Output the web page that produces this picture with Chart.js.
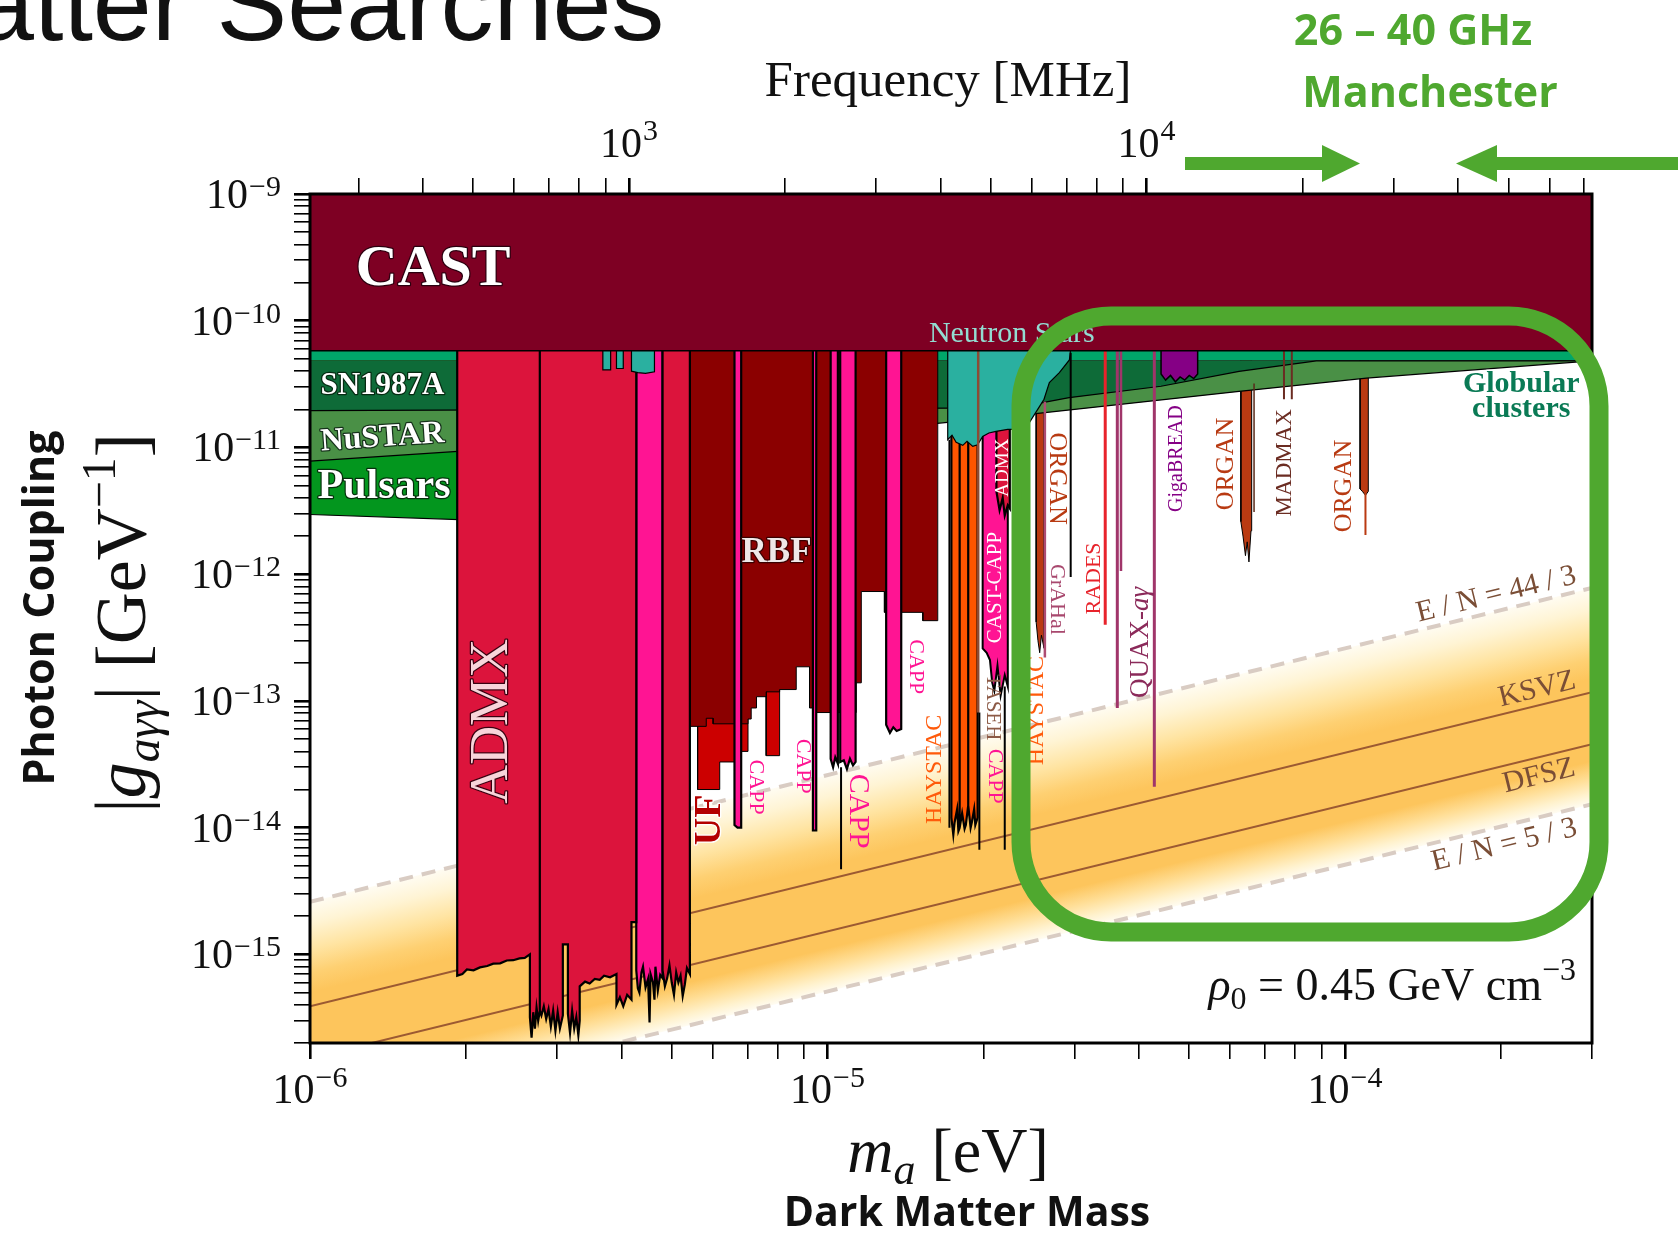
<!DOCTYPE html>
<html>
<head>
<meta charset="utf-8">
<title>Axion haloscope limits</title>
<script src="https://cdn.jsdelivr.net/npm/chart.js@4.4.1/dist/chart.umd.min.js"></script>
<style>
  html, body { margin: 0; padding: 0; background: #fff; overflow: hidden; }
  canvas { display: block; }
</style>
</head>
<body>
<canvas id="limits" width="1678" height="1233"></canvas>
<script>
const SERIF = '"Liberation Serif", "DejaVu Serif", serif';
const SANS = '"Open Sans", "Liberation Sans", sans-serif';
const GREEN = '#4FA82F';
const EV_TO_MHZ = 2.418e8; // 1 eV photon -> MHz

// axes
const massRange = [1e-6, 3e-4];
const couplingRange = [2e-16, 1e-9];
const massTicks = [1e-6, 1e-5, 1e-4];
const freqTicks = [1e3, 1e4];
const couplingTicks = [1e-15, 1e-14, 1e-13, 1e-12, 1e-11, 1e-10, 1e-9];
const minorSteps = [1, 2, 3, 4, 5, 6, 7, 8, 9];

// all series are [mass eV, |g| GeV^-1]
const qcdUpper = [[1e-6, 2.6e-15], [3e-4, 7.8e-13]];    // E/N = 44/3
const ksvz = [[1e-6, 3.9e-16], [3e-4, 1.17e-13]];
const dfsz = [[1e-6, 1.52e-16], [3e-4, 4.56e-14]];
const qcdLower = [[1e-6, 5.1e-17], [3e-4, 1.53e-14]];   // E/N = 5/3

const cast = [[1e-6, 5.8e-11], [3e-4, 5.8e-11]];
const hbStrip = [[1e-6, 4.83e-11], [3e-4, 4.83e-11]];
const sn1987a = [[1e-6, 1.95e-11], [2.3e-5, 2.05e-11], [2.93e-5, 2.47e-11], [4.41e-5, 3.04e-11],
  [6.24e-5, 3.98e-11], [8.8e-5, 4.83e-11], [3e-4, 4.83e-11]];
const globular = [[1e-6, 7.8e-12], [1.93e-6, 9.3e-12], [1.63e-5, 1.55e-11], [2.5e-5, 1.84e-11],
  [6.24e-5, 2.77e-11], [1.1e-4, 3.53e-11], [3e-4, 4.83e-11]];
const pulsars = [[1e-6, 2.96e-12], [2.2e-6, 2.65e-12]];

const admx = [
  [1.925e-6, 6e-11], [1.925e-6, 6.8e-16], [1.97e-6, 7.0e-16], [2.01e-6, 7.6e-16], [2.07e-6, 7.5e-16],
  [2.13e-6, 7.9e-16], [2.2e-6, 8.1e-16], [2.26e-6, 8.45e-16], [2.33e-6, 8.5e-16], [2.4e-6, 8.95e-16],
  [2.47e-6, 9.0e-16], [2.54e-6, 9.3e-16], [2.6e-6, 9.4e-16], [2.66e-6, 1.0e-15],
  [2.66e-6, 3.2e-16], [2.68e-6, 2.2e-16], [2.7e-6, 3.5e-16], [2.72e-6, 2.6e-16], [2.74e-6, 3.8e-16],
  [2.76e-6, 3.0e-16], [2.78e-6, 3.6e-16], [2.78e-6, 6e-11], [2.78e-6, 3.6e-16], [2.8e-6, 3.3e-16],
  [2.83e-6, 3.9e-16], [2.86e-6, 3.1e-16], [2.89e-6, 3.7e-16], [2.92e-6, 2.7e-16], [2.95e-6, 3.6e-16],
  [2.98e-6, 2.5e-16], [3.01e-6, 3.5e-16], [3.04e-6, 2.6e-16], [3.08e-6, 3.3e-16],
  [3.08e-6, 1.2e-15], [3.15e-6, 1.2e-15], [3.15e-6, 3.4e-16], [3.18e-6, 2.4e-16], [3.21e-6, 3.6e-16],
  [3.24e-6, 2.6e-16], [3.27e-6, 3.2e-16], [3.3e-6, 2.3e-16], [3.32e-6, 3.0e-16],
  [3.32e-6, 5.6e-16], [3.4e-6, 6.1e-16], [3.47e-6, 5.9e-16], [3.55e-6, 6.4e-16], [3.63e-6, 6.3e-16],
  [3.7e-6, 6.8e-16], [3.8e-6, 6.6e-16], [3.91e-6, 7.0e-16],
  [3.91e-6, 4.0e-16], [3.97e-6, 4.6e-16], [4.03e-6, 3.9e-16], [4.1e-6, 4.8e-16], [4.18e-6, 4.4e-16],
  [4.18e-6, 1.8e-15], [4.27e-6, 1.8e-15], [4.27e-6, 6e-11],
  [4.8e-6, 6e-11], [4.8e-6, 7.5e-16], [4.85e-6, 5.6e-16], [4.9e-6, 6.5e-16], [4.95e-6, 8.2e-16],
  [5.0e-6, 6.0e-16], [5.05e-6, 4.8e-16], [5.1e-6, 7.2e-16], [5.15e-6, 6.0e-16], [5.2e-6, 6.8e-16],
  [5.25e-6, 4.7e-16], [5.3e-6, 5.8e-16], [5.35e-6, 7.8e-16], [5.42e-6, 7.0e-16], [5.42e-6, 6e-11],
  [2.12e-5, 6e-11], [2.12e-5, 4.5e-12], [2.15e-5, 3.2e-12], [2.18e-5, 4.0e-12], [2.2e-5, 2.9e-12],
  [2.23e-5, 3.5e-12], [2.25e-5, 3.3e-12], [2.25e-5, 6e-11]
];
const capp = [
  [4.27e-6, 6e-11], [4.27e-6, 7.5e-16], [4.3e-6, 5.4e-16], [4.33e-6, 5.0e-16], [4.37e-6, 7.2e-16],
  [4.4e-6, 8.0e-16], [4.45e-6, 5.5e-16], [4.5e-6, 6.4e-16], [4.53e-6, 2.9e-16], [4.55e-6, 7.0e-16],
  [4.6e-6, 6.0e-16], [4.63e-6, 4.4e-16], [4.65e-6, 8.0e-16], [4.7e-6, 5.2e-16], [4.75e-6, 6.9e-16],
  [4.8e-6, 6.5e-16], [4.8e-6, 6e-11],
  [6.61e-6, 6e-11], [6.61e-6, 1.05e-14], [6.7e-6, 1.0e-14], [6.81e-6, 1.0e-14], [6.81e-6, 6e-11],
  [9.37e-6, 6e-11], [9.37e-6, 9.5e-15], [9.51e-6, 9.5e-15], [9.51e-6, 6e-11],
  [1.014e-5, 6e-11], [1.014e-5, 3.5e-14], [1.025e-5, 3.0e-14], [1.035e-5, 3.6e-14], [1.047e-5, 3.2e-14],
  [1.047e-5, 6e-11], [1.058e-5, 6e-11], [1.058e-5, 3.3e-14], [1.075e-5, 3.4e-14], [1.09e-5, 2.9e-14],
  [1.105e-5, 3.5e-14], [1.12e-5, 3.1e-14], [1.133e-5, 3.3e-14], [1.133e-5, 6e-11],
  [1.298e-5, 6e-11], [1.298e-5, 6.5e-14], [1.32e-5, 5.6e-14], [1.34e-5, 6.2e-14], [1.36e-5, 5.8e-14],
  [1.388e-5, 6.0e-14], [1.388e-5, 6e-11]
];
const rbf = [
  [5.42e-6, 6e-11], [5.42e-6, 6.3e-14], [5.83e-6, 6.3e-14], [5.83e-6, 7.3e-14], [6.01e-6, 7.3e-14],
  [6.01e-6, 6.6e-14], [7.02e-6, 6.6e-14], [7.02e-6, 7.2e-14], [7.12e-6, 7.2e-14], [7.12e-6, 8.8e-14],
  [7.29e-6, 8.8e-14], [7.29e-6, 1.08e-13], [7.61e-6, 1.08e-13], [7.61e-6, 1.18e-13], [8.08e-6, 1.18e-13],
  [8.08e-6, 1.23e-13], [8.7e-6, 1.23e-13], [8.7e-6, 1.86e-13], [9.23e-6, 1.86e-13], [9.23e-6, 8.8e-14],
  [9.51e-6, 8.8e-14], [9.51e-6, 8.1e-14], [1.136e-5, 8.1e-14], [1.136e-5, 1.39e-13], [1.162e-5, 1.39e-13],
  [1.162e-5, 7.3e-13], [1.288e-5, 7.3e-13], [1.288e-5, 5.0e-13], [1.528e-5, 5.0e-13], [1.528e-5, 4.3e-13],
  [1.633e-5, 4.3e-13], [1.633e-5, 6e-11]
];
const uf = [
  [5.61e-6, 6e-11], [5.61e-6, 2.0e-14], [6.19e-6, 2.0e-14], [6.19e-6, 3.3e-14], [6.61e-6, 3.3e-14],
  [6.61e-6, 6e-11], [6.81e-6, 6e-11], [6.81e-6, 4.0e-14], [7.02e-6, 4.0e-14], [7.02e-6, 6e-11],
  [7.61e-6, 6e-11], [7.61e-6, 3.7e-14], [8.08e-6, 3.7e-14], [8.08e-6, 6e-11]
];
const haystac = [
  [1.735e-5, 6e-11], [1.735e-5, 1.2e-14], [1.75e-5, 8.8e-15], [1.76e-5, 1.1e-14], [1.78e-5, 1.4e-14],
  [1.79e-5, 9.4e-15], [1.8e-5, 1.0e-14], [1.8e-5, 6e-11], [1.8e-5, 1.0e-14], [1.82e-5, 1.3e-14],
  [1.84e-5, 9.8e-15], [1.85e-5, 1.05e-14], [1.87e-5, 1.5e-14], [1.87e-5, 6e-11], [1.87e-5, 1.5e-14],
  [1.89e-5, 1.0e-14], [1.9e-5, 1.1e-14], [1.92e-5, 1.4e-14], [1.93e-5, 1.05e-14], [1.95e-5, 1.2e-14],
  [1.95e-5, 6e-11]
];
const castCapp = [
  [1.994e-5, 6e-11], [1.994e-5, 2.6e-13], [2.03e-5, 2.4e-13], [2.06e-5, 2.1e-13], [2.08e-5, 1.4e-13],
  [2.1e-5, 1.2e-13], [2.13e-5, 1.9e-13], [2.16e-5, 1.1e-13], [2.2e-5, 1.6e-13], [2.23e-5, 1.3e-13],
  [2.23e-5, 6e-11]
];
const organ = [
  [2.53e-5, 6e-11], [2.53e-5, 4.2e-13], [2.55e-5, 3.0e-13], [2.57e-5, 2.4e-13], [2.59e-5, 3.3e-13],
  [2.62e-5, 2.6e-13], [2.62e-5, 6e-11],
  [6.29e-5, 6e-11], [6.29e-5, 2.6e-12], [6.35e-5, 2.0e-12], [6.42e-5, 1.4e-12], [6.47e-5, 1.8e-12],
  [6.52e-5, 1.25e-12], [6.58e-5, 2.2e-12], [6.6e-5, 2.2e-12], [6.6e-5, 6e-11],
  [1.069e-4, 6e-11], [1.069e-4, 4.7e-12], [1.08e-4, 4.5e-12], [1.095e-4, 4.2e-12], [1.109e-4, 4.5e-12],
  [1.109e-4, 6e-11]
];
const gigabread = [
  [4.41e-5, 6e-11], [4.41e-5, 3.8e-11], [4.5e-5, 3.4e-11], [4.6e-5, 3.7e-11], [4.7e-5, 3.3e-11],
  [4.8e-5, 3.6e-11], [4.9e-5, 3.4e-11], [5.0e-5, 3.7e-11], [5.1e-5, 3.5e-11], [5.19e-5, 3.8e-11],
  [5.19e-5, 6e-11]
];
const neutronStars = [
  [3.68e-6, 6e-11], [3.68e-6, 4.1e-11], [3.81e-6, 4.1e-11], [3.81e-6, 6e-11],
  [3.91e-6, 6e-11], [3.91e-6, 4.2e-11], [4.03e-6, 4.2e-11], [4.03e-6, 6e-11],
  [4.18e-6, 6e-11], [4.18e-6, 4.0e-11], [4.3e-6, 3.9e-11], [4.45e-6, 3.85e-11], [4.63e-6, 3.95e-11],
  [4.63e-6, 6e-11],
  [1.707e-5, 6e-11], [1.707e-5, 1.15e-11], [1.74e-5, 1.25e-11], [1.772e-5, 1.1e-11], [1.825e-5, 1.04e-11],
  [1.86e-5, 1.12e-11], [1.908e-5, 1.02e-11], [1.95e-5, 1.05e-11], [1.994e-5, 1.22e-11], [2.05e-5, 1.3e-11],
  [2.117e-5, 1.34e-11], [2.229e-5, 1.39e-11], [2.314e-5, 1.39e-11], [2.455e-5, 1.57e-11],
  [2.567e-5, 2.1e-11], [2.62e-5, 2.4e-11], [2.683e-5, 3.25e-11], [2.805e-5, 3.9e-11],
  [2.933e-5, 4.9e-11], [2.95e-5, 6e-11]
];
// single-frequency / narrow results drawn as lines
const tasehLine = [[1.955e-5, 5.8e-11], [1.955e-5, 8.1e-14]];
const tasehTail = [[1.965e-5, 8.1e-14], [1.965e-5, 6.7e-15]];
const haystacEdge = [[1.72e-5, 1.15e-11], [1.72e-5, 1.0e-14]];
const castCappTail = [[2.2e-5, 1.3e-13], [2.2e-5, 6.7e-15]];
const cappSpike = [[1.062e-5, 3.0e-14], [1.062e-5, 4.7e-15]];
const grahalLine = [[2.63e-5, 2.3e-11], [2.63e-5, 2.2e-13]];
const blackLine = [[2.95e-5, 5.6e-11], [2.95e-5, 9.5e-13]];
const radesLine = [[3.44e-5, 5.8e-11], [3.44e-5, 4.0e-13]];
const quaxLineA = [[3.63e-5, 5.8e-11], [3.63e-5, 8.8e-14]];
const quaxLineB = [[3.69e-5, 5.8e-11], [3.69e-5, 1.06e-12]];
const quaxLineC = [[4.28e-5, 5.8e-11], [4.28e-5, 2.1e-14]];
const organEdge = [[6.67e-5, 3.2e-11], [6.67e-5, 3.1e-12]];
const organTail = [[1.095e-4, 4.4e-12], [1.095e-4, 2.04e-12]];
const madmaxA = [[7.62e-5, 5.8e-11], [7.62e-5, 2.4e-11]];
const madmaxB = [[7.89e-5, 5.8e-11], [7.89e-5, 2.4e-11]];

// text placed at (mass, coupling)
const regionTags = [
  { t: 'CAST', m: 1.73e-6, g: 2.52e-10, size: 58, bold: true, fill: '#ffffff', halo: '#2b0010', rot: 0 },
  { t: 'SN1987A', m: 1.38e-6, g: 3.07e-11, size: 31, bold: true, fill: '#ffffff', halo: '#062a12', rot: 0 },
  { t: 'NuSTAR', m: 1.38e-6, g: 1.19e-11, size: 32, bold: true, fill: '#ffffff', halo: '#15301a', rot: -4 },
  { t: 'Pulsars', m: 1.39e-6, g: 4.9e-12, size: 42, bold: true, fill: '#ffffff', halo: '#06300c', rot: 0 },
  { t: 'ADMX', m: 2.26e-6, g: 6.9e-14, size: 54, fill: '#F8D4DA', halo: '#3a0010', rot: -90 },
  { t: 'UF', m: 5.94e-6, g: 1.15e-14, size: 38, bold: true, fill: '#B30000', halo: '#ffffff', rot: -90 },
  { t: 'RBF', m: 7.97e-6, g: 1.46e-12, size: 35, bold: true, fill: '#EFE8E8', halo: '#3a0000', rot: 0 },
  { t: 'CAPP', m: 7.28e-6, g: 2.09e-14, size: 22, fill: '#FF1493', rot: 90 },
  { t: 'CAPP', m: 8.95e-6, g: 3.05e-14, size: 22, fill: '#FF1493', rot: 90 },
  { t: 'CAPP', m: 1.143e-5, g: 1.35e-14, size: 30, fill: '#FF1493', rot: 90 },
  { t: 'CAPP', m: 1.48e-5, g: 1.86e-13, size: 22, fill: '#FF1493', rot: 90 },
  { t: 'HAYSTAC', m: 1.61e-5, g: 2.89e-14, size: 24, fill: '#FF5A0A', rot: -90 },
  { t: 'CAST-CAPP', m: 2.11e-5, g: 7.85e-13, size: 21, fill: '#ffffff', rot: -90 },
  { t: 'ADMX', m: 2.18e-5, g: 6.93e-12, size: 19, fill: '#ffffff', rot: -90 },
  { t: 'TASEH', m: 2.08e-5, g: 8.9e-14, size: 21, fill: '#8C5A46', rot: 90 },
  { t: 'CAPP', m: 2.1e-5, g: 2.55e-14, size: 22, fill: '#FF1493', rot: 90 },
  { t: 'ORGAN', m: 2.77e-5, g: 5.68e-12, size: 26, fill: '#B83A12', rot: 90 },
  { t: 'GrAHal', m: 2.77e-5, g: 6.33e-13, size: 22, fill: '#A8486E', rot: 90 },
  { t: 'HAYSTAC', m: 2.54e-5, g: 8.4e-14, size: 24, fill: '#FF5A0A', rot: -90 },
  { t: 'RADES', m: 3.28e-5, g: 9.25e-13, size: 22, fill: '#E8232B', rot: -90 },
  { t: 'GigaBREAD', m: 4.73e-5, g: 8.17e-12, size: 20, fill: '#850085', rot: -90 },
  { t: 'ORGAN', m: 5.9e-5, g: 7.4e-12, size: 26, fill: '#B83A12', rot: -90 },
  { t: 'MADMAX', m: 7.67e-5, g: 7.58e-12, size: 23, fill: '#6B2C22', rot: -90 },
  { t: 'ORGAN', m: 9.95e-5, g: 4.96e-12, size: 26, fill: '#B83A12', rot: -90 },
  { t: 'Neutron Stars', m: 2.27e-5, g: 7.89e-11, size: 30, fill: '#93DCD2', rot: 0 },
  { t: 'Globular', m: 2.19e-4, g: 3.13e-11, size: 30, bold: true, fill: '#0A7A55', halo: '#ffffff', rot: 0 },
  { t: 'clusters', m: 2.19e-4, g: 1.99e-11, size: 30, bold: true, fill: '#0A7A55', halo: '#ffffff', rot: 0 }
];
const bandTags = [
  { t: 'E / N = 44 / 3', m: 1.96e-4, g: 6.9e-13 },
  { t: 'KSVZ', m: 2.35e-4, g: 1.23e-13 },
  { t: 'DFSZ', m: 2.37e-4, g: 2.55e-14 },
  { t: 'E / N = 5 / 3', m: 2.03e-4, g: 7.28e-15 }
];

const pts = a => a.map(([x, y]) => ({ x, y }));

function region(label, data, color, extra) {
  return Object.assign({ label, data: pts(data), backgroundColor: color, borderColor: '#000',
    borderWidth: 1, fill: 'end' }, extra || {});
}
function vline(label, data, color, width) {
  return { label, data: pts(data), borderColor: color, borderWidth: width, fill: false };
}

function bandGradient(context) {
  const chart = context.chart;
  const { x, y } = chart.scales;
  if (!chart.chartArea || !x || !y) return 'rgba(253,197,92,0.7)';
  const ax = x.getPixelForValue(qcdUpper[0][0]), ay = y.getPixelForValue(qcdUpper[0][1]);
  const bx = x.getPixelForValue(qcdUpper[1][0]), by = y.getPixelForValue(qcdUpper[1][1]);
  const dx = bx - ax, dy = by - ay, len = Math.hypot(dx, dy);
  const nx = -dy / len, ny = dx / len;
  const perp = (y.getPixelForValue(qcdLower[0][1]) - ay) * dx / len;
  const g = chart.ctx.createLinearGradient(ax, ay, ax + nx * perp, ay + ny * perp);
  g.addColorStop(0, 'rgb(255,252,242)');
  g.addColorStop(0.1, 'rgb(255,244,212)');
  g.addColorStop(0.22, 'rgb(255,228,162)');
  g.addColorStop(0.33, 'rgb(254,208,114)');
  g.addColorStop(0.42, 'rgb(253,197,92)');
  g.addColorStop(0.8, 'rgb(253,197,92)');
  g.addColorStop(0.88, 'rgb(255,222,150)');
  g.addColorStop(0.95, 'rgb(255,242,206)');
  g.addColorStop(1, 'rgb(255,252,242)');
  return g;
}

// bottom -> top
const layers = [
  { label: 'E/N = 44/3', data: pts(qcdUpper), borderColor: '#D9CCC3', borderWidth: 4, borderDash: [14, 9],
    fill: '+1', backgroundColor: bandGradient },
  { label: 'E/N = 5/3', data: pts(qcdLower), borderColor: '#D9CCC3', borderWidth: 4, borderDash: [14, 9], fill: false },
  vline('KSVZ', ksvz, '#9C5A32', 2),
  vline('DFSZ', dfsz, '#9C5A32', 2),
  region('ORGAN', organ, '#BA3A12'),
  region('Horizontal branch', hbStrip, '#00A66A', { borderWidth: 1.2 }),
  region('Pulsars', pulsars, '#03961E', { fill: { value: 4.83e-11 }, borderWidth: 1.2 }),
  region('Globular clusters', globular, '#4A9046', { fill: { value: 4.83e-11 }, borderWidth: 1.2 }),
  region('SN1987A', sn1987a, '#0E6B38', { fill: { value: 4.83e-11 }, borderWidth: 1.2 }),
  region('UF', uf, '#CC0000'),
  region('RBF', rbf, '#8B0000'),
  region('CAPP', capp, '#FF1493', { borderWidth: 2.2 }),
  region('CAST-CAPP', castCapp, '#FF1493', { borderWidth: 2 }),
  region('ADMX', admx, '#DC143C', { borderWidth: 2.2 }),
  region('HAYSTAC', haystac, '#FF5500', { borderWidth: 2.2 }),
  region('GigaBREAD', gigabread, '#850085', { borderWidth: 1.5 }),
  region('Neutron stars', neutronStars, '#2AB0A0', { borderWidth: 1.2 }),
  vline('TASEH', tasehLine, '#8C4B36', 2.5),
  vline('TASEH tail', tasehTail, '#000', 2),
  vline('HAYSTAC edge', haystacEdge, '#000', 2),
  vline('CAST-CAPP tail', castCappTail, '#000', 2),
  vline('CAPP spike', cappSpike, '#000', 2),
  vline('GrAHal', grahalLine, '#AE4C72', 2.5),
  vline('other', blackLine, '#000', 2),
  vline('RADES', radesLine, '#E8232B', 3),
  vline('QUAX a', quaxLineA, '#A0356A', 3),
  vline('QUAX b', quaxLineB, '#A0356A', 2.5),
  vline('QUAX c', quaxLineC, '#A0356A', 3),
  vline('ORGAN edge', organEdge, '#5A2A1A', 1.5),
  vline('ORGAN tail', organTail, '#BA3A12', 2),
  vline('MADMAX a', madmaxA, '#6B2C22', 2),
  vline('MADMAX b', madmaxB, '#6B2C22', 2),
  region('CAST', cast, '#7E0023', { borderWidth: 1.5 })
];
const datasets = layers.map((d, i) => Object.assign(d, { order: layers.length - i }));

function logTicks(min, max) {
  const out = [];
  for (let e = Math.floor(Math.log10(min)); e <= Math.ceil(Math.log10(max)); e++) {
    minorSteps.forEach(k => {
      const v = k * Math.pow(10, e);
      if (v >= min * (1 - 1e-9) && v <= max * (1 + 1e-9)) out.push({ value: v, major: k === 1 });
    });
  }
  return out;
}
const tickGrid = { drawOnChartArea: false, drawTicks: true, tickLength: 16, color: '#000',
  lineWidth: c => (c.tick && c.tick.major ? 2.6 : 1.6) };

function tag(ctx, text, x, y, o) {
  ctx.save();
  ctx.translate(x, y);
  if (o.rot) ctx.rotate(o.rot * Math.PI / 180);
  ctx.font = (o.bold ? 'bold ' : '') + o.size + 'px ' + (o.family || SERIF);
  ctx.textAlign = 'center';
  ctx.textBaseline = 'middle';
  if (o.halo) {
    ctx.lineWidth = o.haloWidth || 2.5;
    ctx.lineJoin = 'round';
    ctx.strokeStyle = o.halo;
    ctx.strokeText(text, 0, 0);
  }
  ctx.fillStyle = o.fill;
  ctx.fillText(text, 0, 0);
  ctx.restore();
}

function rich(ctx, parts, x, y, align, rot) {
  ctx.save();
  ctx.translate(x, y);
  if (rot) ctx.rotate(rot);
  ctx.textAlign = 'left';
  ctx.textBaseline = 'alphabetic';
  let w = 0;
  parts.forEach(p => { ctx.font = p.f; p.w = ctx.measureText(p.t).width + (p.gap || 0); w += p.w; });
  let cx = align === 'center' ? -w / 2 : align === 'right' ? -w : 0;
  parts.forEach(p => {
    ctx.font = p.f;
    ctx.fillStyle = p.c || '#111';
    ctx.fillText(p.t, cx, p.dy || 0);
    cx += p.w;
  });
  ctx.restore();
}

function pow10(ctx, v, x, y, align, big, small, raise) {
  const e = Math.round(Math.log10(v));
  const ex = (e < 0 ? '\u2212' : '') + Math.abs(e);
  rich(ctx, [
    { t: '10', f: big + 'px ' + SERIF, gap: 1 },
    { t: ex, f: small + 'px ' + SERIF, dy: -raise }
  ], x, y, align);
}

function roundRect(ctx, x, y, w, h, r) {
  ctx.beginPath();
  ctx.moveTo(x + r, y);
  ctx.lineTo(x + w - r, y);
  ctx.arcTo(x + w, y, x + w, y + r, r);
  ctx.lineTo(x + w, y + h - r);
  ctx.arcTo(x + w, y + h, x + w - r, y + h, r);
  ctx.lineTo(x + r, y + h);
  ctx.arcTo(x, y + h, x, y + h - r, r);
  ctx.lineTo(x, y + r);
  ctx.arcTo(x, y, x + r, y, r);
  ctx.closePath();
}

const decor = {
  id: 'decor',
  afterDatasetsDraw(chart) {
    const { ctx, chartArea: a, scales: { x, y } } = chart;
    ctx.save();
    ctx.strokeStyle = '#000';
    ctx.lineWidth = 3;
    ctx.strokeRect(a.left, a.top, a.right - a.left, a.bottom - a.top);
    regionTags.forEach(t => tag(ctx, t.t, x.getPixelForValue(t.m), y.getPixelForValue(t.g), t));
    // QUAX label has an italic part
    rich(ctx, [
      { t: 'QUAX-', f: '27px ' + SERIF, c: '#8B2A5A' },
      { t: 'a\u03B3', f: 'italic 27px ' + SERIF, c: '#8B2A5A' }
    ], x.getPixelForValue(4.0e-5) + 9, y.getPixelForValue(2.9e-13), 'center', -Math.PI / 2);
    // QCD band labels follow the slope of the lines
    const ang = Math.atan2(y.getPixelForValue(ksvz[1][1]) - y.getPixelForValue(ksvz[0][1]),
      x.getPixelForValue(ksvz[1][0]) - x.getPixelForValue(ksvz[0][0]));
    bandTags.forEach(t => tag(ctx, t.t, x.getPixelForValue(t.m), y.getPixelForValue(t.g),
      { size: 30, fill: '#7A4E36', rot: ang * 180 / Math.PI }));
    rich(ctx, [
      { t: '\u03C1', f: 'italic 46px ' + SERIF },
      { t: '0', f: '32px ' + SERIF, dy: 9 },
      { t: ' = 0.45 GeV cm', f: '46px ' + SERIF },
      { t: '\u22123', f: '32px ' + SERIF, dy: -20 }
    ], a.right - 16, a.bottom - 43, 'right');
    ctx.restore();
  },
  afterDraw(chart) {
    const { ctx, chartArea: a, scales: { x, x2, y } } = chart;
    ctx.save();
    couplingTicks.forEach(v => pow10(ctx, v, a.left - 29, y.getPixelForValue(v) + 14, 'right', 42, 30, 12));
    massTicks.forEach(v => pow10(ctx, v, x.getPixelForValue(v), a.bottom + 60, 'center', 42, 30, 16));
    freqTicks.forEach(v => pow10(ctx, v, x2.getPixelForValue(v), a.top - 37, 'center', 42, 30, 17));

    // axis titles
    rich(ctx, [{ t: 'Frequency [MHz]', f: '51px ' + SERIF }], (a.left + a.right) / 2 - 3, 96, 'center');
    rich(ctx, [
      { t: 'm', f: 'italic 64px ' + SERIF },
      { t: 'a', f: 'italic 44px ' + SERIF, dy: 12 },
      { t: ' [eV]', f: '64px ' + SERIF }
    ], (a.left + a.right) / 2 - 3, 1172, 'center');
    rich(ctx, [{ t: 'Dark Matter Mass', f: 'bold 41px ' + SANS }], 967, 1226, 'center');
    rich(ctx, [
      { t: '|', f: '72px ' + SERIF },
      { t: 'g', f: 'italic 72px ' + SERIF },
      { t: 'a\u03B3\u03B3', f: 'italic 48px ' + SERIF, dy: 14 },
      { t: '| [GeV', f: '72px ' + SERIF },
      { t: '\u22121', f: '48px ' + SERIF, dy: -30 },
      { t: ']', f: '72px ' + SERIF }
    ], 145, 623, 'center', -Math.PI / 2);
    rich(ctx, [{ t: 'Photon Coupling', f: 'bold 43px ' + SANS }], 54, 608, 'center', -Math.PI / 2);

    // slide title (cut at the page edge)
    rich(ctx, [{ t: 'atter Searches', f: '106px "Liberation Sans", Arial, sans-serif' }], -25, 40, 'left');

    // Manchester band annotation
    ctx.strokeStyle = GREEN;
    ctx.lineWidth = 19;
    roundRect(ctx, 1021, 316, 578, 616, 90);
    ctx.stroke();
    ctx.fillStyle = GREEN;
    ctx.fillRect(1185, 157, 140, 13);
    ctx.beginPath(); ctx.moveTo(1322, 145); ctx.lineTo(1360, 163.5); ctx.lineTo(1322, 182); ctx.closePath(); ctx.fill();
    ctx.fillRect(1494, 157, 184, 13);
    ctx.beginPath(); ctx.moveTo(1497, 145); ctx.lineTo(1456, 163.5); ctx.lineTo(1497, 182); ctx.closePath(); ctx.fill();
    rich(ctx, [{ t: '26 \u2013 40 GHz', f: 'bold 43px ' + SANS, c: GREEN }], 1413, 45, 'center');
    rich(ctx, [{ t: 'Manchester', f: 'bold 43px ' + SANS, c: GREEN }], 1430, 107, 'center');
    ctx.restore();
  }
};

Chart.defaults.font.family = SERIF;

new Chart(document.getElementById('limits'), {
  type: 'line',
  data: { datasets },
  options: {
    responsive: false,
    animation: false,
    devicePixelRatio: 1,
    events: [],
    layout: { autoPadding: false, padding: { left: 0, right: 86, top: 0, bottom: 0 } },
    elements: { point: { radius: 0 }, line: { tension: 0 } },
    plugins: { legend: { display: false }, tooltip: { enabled: false }, title: { display: false } },
    scales: {
      x: {
        type: 'logarithmic', position: 'bottom', min: massRange[0], max: massRange[1], bounds: 'data',
        border: { display: false }, grid: tickGrid, ticks: { display: false },
        afterBuildTicks: s => { s.ticks = logTicks(s.min, s.max); },
        afterFit: s => { s.height = 190; }
      },
      x2: {
        type: 'logarithmic', position: 'top', axis: 'x',
        min: massRange[0] * EV_TO_MHZ, max: massRange[1] * EV_TO_MHZ, bounds: 'data',
        border: { display: false }, grid: tickGrid, ticks: { display: false },
        afterBuildTicks: s => { s.ticks = logTicks(s.min, s.max); },
        afterFit: s => { s.height = 194; }
      },
      y: {
        type: 'logarithmic', position: 'left', min: couplingRange[0], max: couplingRange[1], bounds: 'data',
        border: { display: false }, grid: tickGrid, ticks: { display: false },
        afterBuildTicks: s => { s.ticks = logTicks(s.min, s.max); },
        afterFit: s => { s.width = 310; }
      }
    }
  },
  plugins: [decor]
});
</script>
</body>
</html>
